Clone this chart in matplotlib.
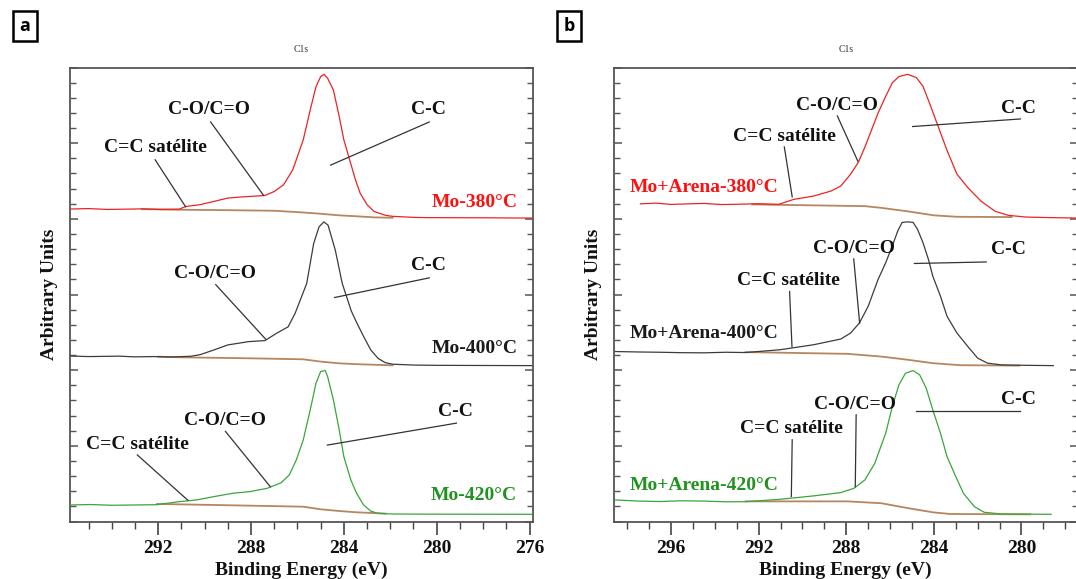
import matplotlib
matplotlib.use('Agg')
import matplotlib.pyplot as plt
from matplotlib.ticker import MultipleLocator, NullFormatter
import numpy as np

# ---------------- data (binding energy eV, normalised intensity 0-100) ----------------
# Panel a : Mo films
E_a380 = [295.8, 295.0, 294.2, 293.4, 292.7, 291.9, 291.1, 290.8, 290.2, 289.6, 289.0, 288.5, 288.1, 287.4,
          287.0, 286.6, 286.2, 285.75, 285.45, 285.2, 285.0, 284.85, 284.7, 284.45, 284.2, 284.0, 283.75,
          283.5, 283.3, 283.0, 282.7, 282.2, 281.9, 281.0, 280.4, 278.0, 275.9]
I_a380 = [6.3, 6.6, 6.0, 6.2, 6.4, 6.0, 6.2, 8.1, 9.3, 11.6, 13.9, 14.6, 15.0, 15.7,
          18.5, 23.1, 33.6, 54.4, 75.2, 91.4, 98.4, 100, 97.2, 89.1, 70.6, 54.4, 40.5,
          26.6, 17.4, 9.3, 4.6, 1.9, 1.2, 0.5, 0.3, 0.2, 0.0]
Ebg_a380 = [292.7, 291.1, 289.0, 287.0, 285.75, 285.0, 284.2, 283.4, 282.7, 281.9]
Ibg_a380 = [6.2, 5.8, 5.5, 5.1, 3.9, 3.0, 1.9, 1.2, 0.5, 0.2]

E_a400 = [295.8, 295.0, 294.5, 293.7, 293.0, 292.2, 291.5, 290.6, 290.2, 289.6, 289.0, 288.1, 287.4, 286.9,
          286.4, 286.1, 285.6, 285.3, 285.07, 284.86, 284.68, 284.37, 284.07, 283.68, 283.45, 283.14,
          282.84, 282.53, 282.22, 281.91, 281.0, 280.0, 278.0, 275.9]
I_a400 = [6.7, 6.3, 6.4, 6.6, 6.1, 6.3, 6.0, 6.5, 7.6, 10.9, 14.4, 16.7, 17.4, 22.5,
          27.0, 36.4, 57.2, 85.0, 96.5, 100, 97.7, 80.4, 57.2, 38.0, 30.0, 20.0,
          10.9, 5.1, 2.1, 1.0, 0.4, 0.2, 0.1, 0.0]
Ebg_a400 = [292.0, 291.1, 288.1, 285.75, 285.0, 284.2, 283.45, 281.9]
Ibg_a400 = [6.2, 5.8, 5.1, 4.4, 2.8, 1.6, 1.0, 0.2]

E_a420 = [295.8, 294.9, 294.0, 293.0, 292.05, 291.1, 290.35, 289.6, 288.8, 288.05, 287.3, 286.7, 286.35,
          286.05, 285.75, 285.45, 285.2, 285.0, 284.8, 284.7, 284.45, 284.2, 284.0, 283.7, 283.45,
          283.15, 282.85, 282.55, 281.9, 280.0, 275.9]
I_a420 = [6.5, 6.8, 6.3, 6.5, 6.7, 8.8, 10.0, 12.3, 14.6, 15.8, 18.1, 22.0, 27.4,
          37.8, 51.7, 72.6, 91.2, 99.3, 100, 95.8, 79.6, 58.7, 40.1, 23.9, 14.6,
          6.5, 2.3, 0.7, 0.2, 0.1, 0.0]
Ebg_a420 = [292.05, 289.6, 285.75, 285.0, 284.2, 283.45, 282.2]
Ibg_a420 = [7.2, 6.5, 5.3, 3.5, 2.3, 1.4, 0.5]

# Panel b : Mo + Arena films
E_b380 = [297.4, 296.7, 296.0, 295.2, 294.5, 293.7, 293.0, 292.0, 291.1, 290.4, 289.5, 288.7, 288.25, 287.8,
          287.45, 287.15, 286.85, 286.55, 286.2, 285.9, 285.6, 285.2, 284.8, 284.5, 284.2, 283.8, 283.4,
          282.95, 282.45, 281.85, 281.2, 280.6, 279.8, 278.6, 277.4]
I_b380 = [9.9, 10.4, 9.5, 9.9, 10.2, 9.4, 9.6, 10.0, 9.5, 13.0, 15.3, 18.8, 22.3, 30.6,
          38.8, 49.4, 61.2, 73.0, 84.7, 94.1, 98.4, 100, 97.7, 91.7, 80.0, 63.5, 47.1,
          30.6, 21.2, 11.8, 4.7, 1.9, 0.7, 0.3, 0.0]
Ebg_b380 = [292.3, 287.15, 286.4, 285.2, 284.0, 282.95, 280.45]
Ibg_b380 = [9.5, 8.3, 7.1, 4.7, 1.9, 0.9, 0.7]

E_b400 = [298.55, 297.5, 296.5, 295.5, 294.5, 293.5, 292.6, 291.05, 289.5, 288.25, 287.8, 287.4, 287.0,
          286.55, 286.2, 285.9, 285.65, 285.45, 285.2, 284.95, 284.75, 284.5, 284.25, 284.05, 283.7,
          283.4, 282.95, 282.45, 282.0, 281.55, 280.9, 279.7, 278.55]
I_b400 = [9.8, 9.5, 9.3, 9.0, 8.9, 9.3, 9.1, 11.0, 14.5, 18.5, 22.7, 29.7, 41.3,
          59.9, 71.6, 83.2, 93.7, 99.6, 100, 99.6, 94.9, 85.6, 73.9, 62.2, 48.3,
          34.3, 22.7, 13.3, 5.2, 1.7, 0.5, 0.2, 0.0]
Ebg_b400 = [292.6, 287.95, 286.4, 285.15, 284.05, 282.8, 280.1]
Ibg_b400 = [9.4, 8.2, 6.3, 4.0, 1.7, 0.3, 0.0]

E_b420 = [298.55, 297.5, 296.5, 295.5, 294.5, 293.5, 292.6, 291.05, 289.5, 288.25, 287.65, 287.15, 286.7,
          286.2, 285.9, 285.6, 285.3, 284.95, 284.65, 284.35, 284.05, 283.7, 283.4, 283.0, 282.65,
          282.15, 281.7, 280.9, 279.7, 278.65]
I_b420 = [10.0, 9.2, 8.9, 9.4, 9.2, 8.7, 8.8, 10.4, 12.8, 15.1, 18.1, 23.9, 35.5,
          56.4, 74.9, 90.0, 98.1, 100, 97.0, 87.7, 72.6, 56.4, 40.1, 26.2, 14.6,
          5.3, 1.4, 0.2, 0.1, 0.0]
Ebg_b420 = [292.6, 287.95, 286.4, 285.15, 284.05, 283.25, 279.6]
Ibg_b420 = [9.0, 9.0, 7.7, 4.2, 1.4, 0.2, 0.0]

# sample labels
labels_a = ["Mo-380°C", "Mo-400°C", "Mo-420°C"]
labels_b = ["Mo+Arena-380°C", "Mo+Arena-400°C", "Mo+Arena-420°C"]
xticks_major = 4
xticks_minor = 1

# ---------------- style ----------------
SERIF = ['Liberation Serif', 'DejaVu Serif']
RED, BLACK, GREEN = '#ee2222', '#3c3c3c', '#3aa53a'
RED_T, BLACK_T, GREEN_T = '#ff1010', '#1a1a1a', '#1f921f'
BG = '#b58660'
OFFSETS = [4.01, 2.06, 0.095]
SCALE = 0.019
FS = 14

plt.rcParams['font.family'] = SERIF
plt.rcParams['font.weight'] = 'bold'

W, H = 1076, 579
fig = plt.figure(figsize=(W / 100, H / 100), dpi=100)
fig.patch.set_facecolor('white')

axA = fig.add_axes([70 / W, 1 - 521.5 / H, 463 / W, 454 / H])
axB = fig.add_axes([613.5 / W, 1 - 521.5 / H, 464.5 / W, 454 / H])


def style_axis(ax, xlim):
    ax.set_xlim(*xlim)
    ax.set_ylim(0, 6)
    ax.xaxis.set_major_locator(MultipleLocator(xticks_major))
    ax.xaxis.set_minor_locator(MultipleLocator(xticks_minor))
    ax.yaxis.set_major_locator(MultipleLocator(1))
    ax.yaxis.set_minor_locator(MultipleLocator(0.2))
    ax.yaxis.set_major_formatter(NullFormatter())
    ax.tick_params(axis='x', which='major', direction='out', length=9, width=1.2, colors='#444',
                   labelcolor='#111', labelsize=FS, pad=4, top=False)
    ax.tick_params(axis='x', which='minor', direction='out', length=5, width=1.0, colors='#444', top=False)
    ax.tick_params(axis='y', which='major', direction='in', length=6, width=1.1, colors='#555',
                   left=True, right=True)
    ax.tick_params(axis='y', which='minor', direction='in', length=4, width=1.0, colors='#555',
                   left=True, right=True)
    for lab in ax.get_xticklabels():
        lab.set_fontweight('bold')
    for sp in ax.spines.values():
        sp.set_color('#555')
        sp.set_linewidth(1.3)
    ax.set_xlabel('Binding Energy (eV)', fontsize=FS, fontweight='bold', labelpad=4, color='#111')
    ax.set_ylabel('Arbitrary Units', fontsize=FS, fontweight='bold', labelpad=5, color='#111')
    ax.set_title('C1s', fontsize=7, fontweight='normal', color='#333', pad=11)


def draw_spectra(ax, series):
    for (E, I, Eb, Ib, off, col) in series:
        ax.plot(Eb, off + SCALE * np.asarray(Ib), color=BG, lw=1.3, zorder=2)
        ax.plot(E, off + SCALE * np.asarray(I), color=col, lw=0.9, zorder=3)


def annotate(ax, items):
    for (txt, tx, ty, x1, y1, x2, y2) in items:
        ax.text(tx, ty, txt, ha='center', va='center', fontsize=FS, fontweight='bold', color='#111')
        ax.plot([x1, x2], [y1, y2], color='#333', lw=0.9, zorder=4)


style_axis(axA, (295.8, 275.85))
style_axis(axB, (298.63, 277.42))

draw_spectra(axA, [
    (E_a380, I_a380, Ebg_a380, Ibg_a380, OFFSETS[0], RED),
    (E_a400, I_a400, Ebg_a400, Ibg_a400, OFFSETS[1], BLACK),
    (E_a420, I_a420, Ebg_a420, Ibg_a420, OFFSETS[2], GREEN),
])
draw_spectra(axB, [
    (E_b380, I_b380, Ebg_b380, Ibg_b380, OFFSETS[0], RED),
    (E_b400, I_b400, Ebg_b400, Ibg_b400, OFFSETS[1], BLACK),
    (E_b420, I_b420, Ebg_b420, Ibg_b420, OFFSETS[2], GREEN),
])

annotate(axA, [
    ("C-O/C=O", 289.82, 5.44, 289.74, 5.28, 287.46, 4.31),
    ("C=C satélite", 292.14, 4.94, 292.13, 4.78, 290.82, 4.16),
    ("C-C", 280.36, 5.44, 280.32, 5.28, 284.57, 4.71),
    ("C-O/C=O", 289.56, 3.28, 289.52, 3.13, 287.37, 2.41),
    ("C-C", 280.36, 3.38, 280.32, 3.22, 284.40, 2.96),
    ("C-O/C=O", 289.13, 1.33, 289.10, 1.19, 287.17, 0.46),
    ("C=C satélite", 292.88, 1.02, 292.90, 0.88, 290.72, 0.28),
    ("C-C", 279.20, 1.46, 279.15, 1.30, 284.71, 1.01),
])
annotate(axB, [
    ("C-O/C=O", 288.41, 5.50, 288.41, 5.36, 287.47, 4.76),
    ("C=C satélite", 290.84, 5.09, 290.83, 4.95, 290.47, 4.29),
    ("C-C", 280.13, 5.46, 280.05, 5.32, 284.97, 5.22),
    ("C-O/C=O", 287.67, 3.61, 287.66, 3.47, 287.39, 2.62),
    ("C=C satélite", 290.62, 3.19, 290.59, 3.04, 290.48, 2.31),
    ("C-C", 280.58, 3.59, 281.61, 3.43, 284.89, 3.41),
    ("C-O/C=O", 287.59, 1.54, 287.55, 1.41, 287.59, 0.46),
    ("C=C satélite", 290.51, 1.23, 290.47, 1.08, 290.51, 0.33),
    ("C-C", 280.13, 1.61, 280.05, 1.46, 284.82, 1.46),
])

# sample names
for lab, u, c in zip(labels_a, [4.21, 2.28, 0.35], [RED_T, BLACK_T, GREEN_T]):
    axA.text(276.53, u, lab, ha='right', va='center', fontsize=FS, fontweight='bold', color=c)
for lab, u, c in zip(labels_b, [4.42, 2.48, 0.48], [RED_T, BLACK_T, GREEN_T]):
    axB.text(297.88, u, lab, ha='left', va='center', fontsize=FS, fontweight='bold', color=c)

# panel letters
for letter, xc in [('a', 25), ('b', 569)]:
    fig.text(xc / W, 1 - 26 / H, letter, ha='center', va='center', fontsize=13, fontweight='bold',
             family=['Open Sans', 'DejaVu Sans'], color='black',
             bbox=dict(boxstyle='square,pad=0.35', fc='white', ec='black', lw=1.8))

fig.savefig('out.png', dpi=100, facecolor='white')
